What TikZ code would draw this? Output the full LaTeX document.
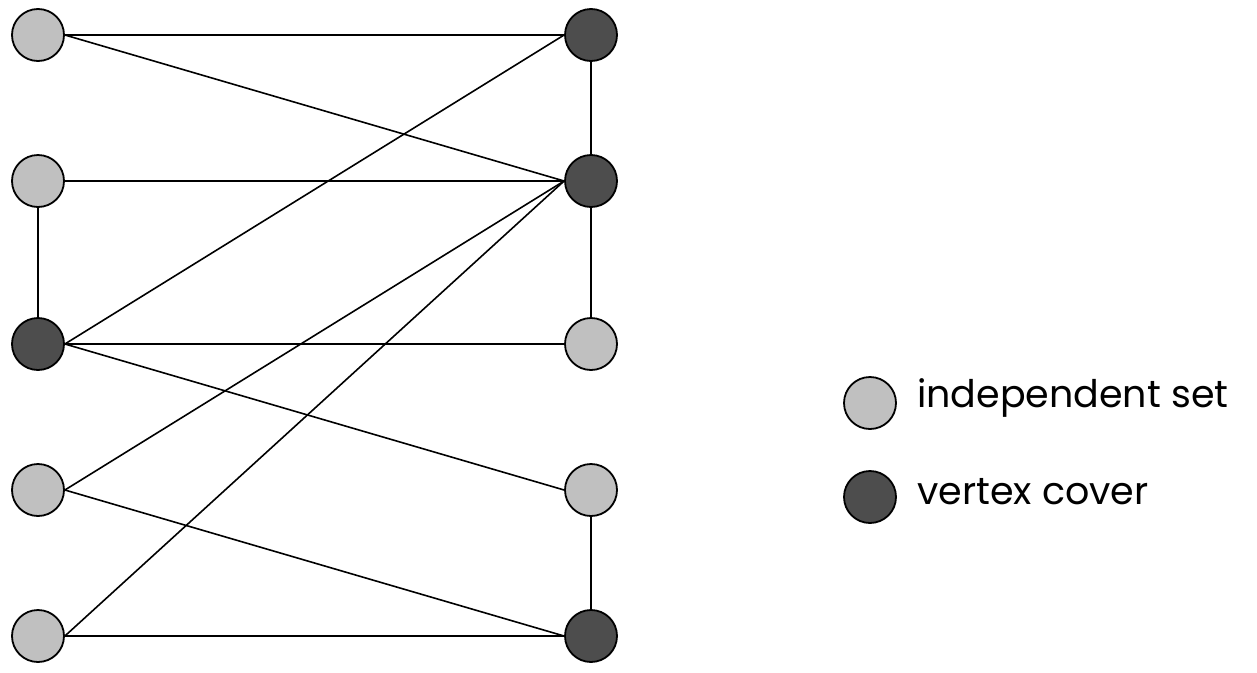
\documentclass[tikz,border=0pt]{standalone}
\usepackage{fontspec}
\setmainfont{Poppins}
\begin{document}
\begin{tikzpicture}[x=1pt,y=-1pt,
  vtx/.style={circle,draw=black,line width=1.8pt,minimum size=52pt,inner sep=0pt},
  indep/.style={vtx,fill=indepgray},
  cover/.style={vtx,fill=covergray},
  edge/.style={line width=1.6pt,black},
  lbl/.style={anchor=west,font=\fontsize{38}{42}\selectfont,inner sep=0pt}]
\definecolor{indepgray}{HTML}{C0C0C0}
\definecolor{covergray}{HTML}{4D4D4D}
\useasboundingbox (0,0) rectangle (1257,672);
\node[indep] (L1) at (38,35) {};
\node[indep] (L2) at (38,181) {};
\node[cover] (L3) at (38,344) {};
\node[indep] (L4) at (38,490) {};
\node[indep] (L5) at (38,636) {};
\node[cover] (R1) at (591,35) {};
\node[cover] (R2) at (591,181) {};
\node[indep] (R3) at (591,344) {};
\node[indep] (R4) at (591,490) {};
\node[cover] (R5) at (591,636) {};
\foreach \a/\b in {L1/R1,L1/R2,L2/R2,L3/R1,L3/R3,L3/R4,L4/R2,L4/R5,L5/R2,L5/R5}
  \draw[edge] (\a.east) -- (\b.west);
\foreach \a/\b in {L2/L3,R1/R2,R2/R3,R4/R5}
  \draw[edge] (\a.south) -- (\b.north);
\node[indep] (K1) at (870,403) {};
\node[cover] (K2) at (870,497) {};
\node[lbl] (T1) at (917,398) {independent set};
\node[lbl] (T2) at (917,492) {vertex cover};
\end{tikzpicture}
\end{document}
